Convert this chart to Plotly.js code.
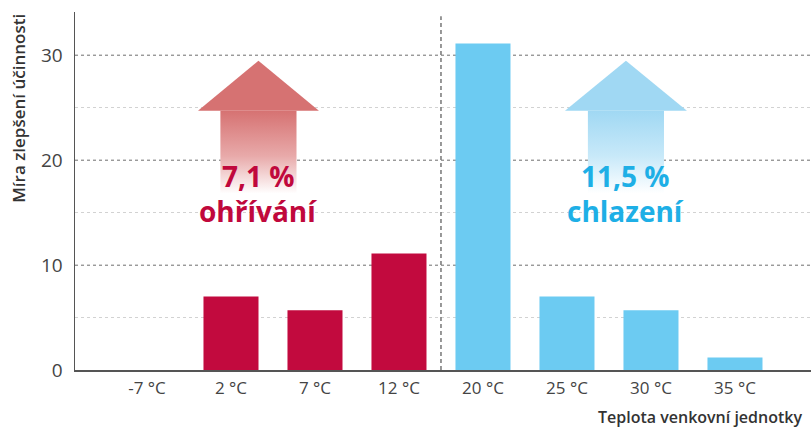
<!DOCTYPE html>
<html>
<head>
<meta charset="utf-8">
<script src="https://cdn.plot.ly/plotly-3.0.1.min.js"></script>
<style>html,body{margin:0;padding:0;background:#fff;}#chart{width:811px;height:428px;}</style>
</head>
<body>
<div id="chart"></div>
<script>
// ---- data ----
const categories = ['-7 °C', '2 °C', '7 °C', '12 °C', '20 °C', '25 °C', '30 °C', '35 °C'];
const improvement = [0, 7.0, 5.7, 11.1, 31.1, 7.0, 5.7, 1.2];
const mode = ['heat', 'heat', 'heat', 'heat', 'cool', 'cool', 'cool', 'cool'];
const yTicks = [0, 10, 20, 30];
const heatLabel = ['7,1 %', 'ohřívání'];
const coolLabel = ['11,5 %', 'chlazení'];

// ---- styles ----
const RED = 'rgb(194,10,62)';
const BLUE = 'rgb(108,203,242)';
const RED_TXT = 'rgb(192,8,60)';
const BLUE_TXT = 'rgb(30,175,230)';
const FONT = 'Open Sans, Noto Sans, sans-serif';

const idx = categories.map((c, i) => i);
const colors = mode.map(m => m === 'heat' ? RED : BLUE);

// decorative arrow geometry (data units)
function arrow(cx, hw, sw, tip, base, bottom) {
  return {
    head: {x: [cx - hw, cx, cx + hw, cx - hw], y: [base, tip, base, base]},
    shaft: {x: [cx - sw, cx + sw, cx + sw, cx - sw, cx - sw], y: [base, base, bottom, bottom, base]}
  };
}
const heatArrow = arrow(1.327, 0.72, 0.453, 29.45, 24.7, 16.8);
const coolArrow = arrow(5.702, 0.726, 0.453, 29.45, 24.7, 16.8);

function arrowTraces(a, col, colLight) {
  return [
    {type: 'scatter', mode: 'none', x: a.shaft.x, y: a.shaft.y, fill: 'toself',
     fillgradient: {type: 'vertical', colorscale: [[0, 'rgba(255,255,255,1)'], [0.45, colLight], [1, col]]},
     hoverinfo: 'skip', showlegend: false},
    {type: 'scatter', mode: 'none', x: a.head.x, y: a.head.y, fill: 'toself', fillcolor: col,
     hoverinfo: 'skip', showlegend: false}
  ];
}

const traces = [
  ...arrowTraces(heatArrow, 'rgb(214,114,114)', 'rgb(232,170,170)'),
  ...arrowTraces(coolArrow, 'rgb(160,216,243)', 'rgb(200,233,249)'),
  {type: 'bar', x: idx, y: improvement, marker: {color: colors, line: {width: 0}},
   width: 0.655, hoverinfo: 'skip', showlegend: false}
];

const bigFont = (c) => ({family: FONT, size: 28, color: c, weight: 'bold'});

const layout = {
  width: 811, height: 428,
  margin: {l: 75, r: 0, t: 12, b: 58},
  paper_bgcolor: '#fff', plot_bgcolor: '#fff',
  showlegend: false,
  xaxis: {
    type: 'linear', range: [-0.857, 7.905],
    tickvals: idx, ticktext: categories,
    showgrid: false, zeroline: false,
    showline: true, linecolor: '#555', linewidth: 1.5,
    ticks: '', ticklabelstandoff: 2,
    tickfont: {family: FONT, size: 17, color: '#444'},
    fixedrange: true
  },
  yaxis: {
    range: [0, 34.1],
    tickvals: yTicks, ticktext: yTicks.map(String),
    showgrid: true, gridcolor: '#9a9a9a', griddash: '3px,3px', gridwidth: 1,
    minor: {dtick: 5, tick0: 0, showgrid: true, gridcolor: '#d2d2d2', griddash: '3px,3px', gridwidth: 1.2},
    zeroline: false,
    showline: true, linecolor: '#555', linewidth: 1.5,
    ticks: '', ticklabelstandoff: 7,
    tickfont: {family: FONT, size: 19, color: '#444'},
    fixedrange: true
  },
  shapes: [
    {type: 'line', xref: 'x', yref: 'y', x0: 3.5, x1: 3.5, y0: 0, y1: 33.7,
     line: {color: '#777', width: 1.5, dash: '4px,3px'}}
  ],
  annotations: [
    {xref: 'paper', yref: 'paper', x: -0.077, y: 1.0, xanchor: 'center', yanchor: 'top',
     text: 'Míra zlepšení účinnosti', textangle: -90, showarrow: false,
     font: {family: FONT, size: 17, color: '#333', weight: 600}},
    {xref: 'paper', yref: 'paper', x: 0.99, y: -0.168, xanchor: 'right', yanchor: 'bottom',
     text: 'Teplota venkovní jednotky', showarrow: false,
     font: {family: FONT, size: 16, color: '#333', weight: 600}},
    {xref: 'x', yref: 'y', x: 1.327, y: 18.5, text: heatLabel[0], showarrow: false, font: bigFont(RED_TXT)},
    {xref: 'x', yref: 'y', x: 1.327, y: 15.1, text: heatLabel[1], showarrow: false, font: bigFont(RED_TXT)},
    {xref: 'x', yref: 'y', x: 5.702, y: 18.5, text: coolLabel[0], showarrow: false, font: bigFont(BLUE_TXT)},
    {xref: 'x', yref: 'y', x: 5.702, y: 15.1, text: coolLabel[1], showarrow: false, font: bigFont(BLUE_TXT)}
  ]
};

Plotly.newPlot('chart', traces, layout, {staticPlot: true, displayModeBar: false});
</script>
</body>
</html>
